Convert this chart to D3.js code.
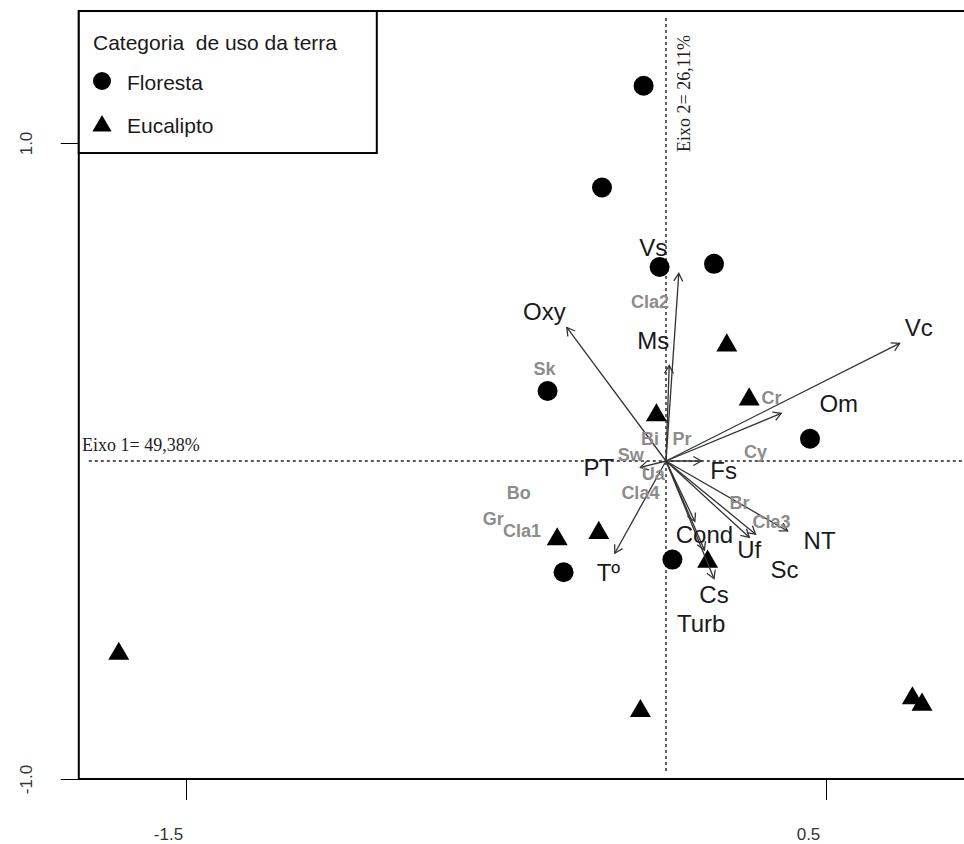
<!DOCTYPE html>
<html>
<head>
<meta charset="utf-8">
<script src="https://cdn.jsdelivr.net/npm/d3@7"></script>
<style>
  body { margin: 0; background: #fff; }
  text { font-family: Arial, "Liberation Sans", sans-serif; }
</style>
</head>
<body>
<div id="chart"></div>
<script>
// sites
var forestX = [-0.07, -0.20, -0.02, 0.15, -0.37, 0.45, 0.02, -0.32];
var forestY = [1.18, 0.86, 0.61, 0.62, 0.22, 0.07, -0.31, -0.35];
var eucX = [0.19, 0.26, -0.03, -0.21, -0.34, 0.13, -1.71, -0.08, 0.77, 0.80];
var eucY = [0.37, 0.20, 0.15, -0.22, -0.24, -0.31, -0.60, -0.78, -0.74, -0.76];

// environmental vectors
var envNames = ["Vs", "Ms", "Oxy", "Vc", "Om", "Fs", "PT", "Tº", "NT", "Sc", "Uf", "Cond", "Cs", "Turb"];
var envX = [0.04, 0.01, -0.31, 0.73, 0.36, 0.11, -0.08, -0.16, 0.38, 0.28, 0.26, 0.09, 0.15, 0.12];
var envY = [0.59, 0.30, 0.42, 0.37, 0.15, 0.00, -0.02, -0.29, -0.22, -0.23, -0.24, -0.19, -0.37, -0.28];
var envLabX = [-0.04, -0.04, -0.38, 0.79, 0.54, 0.18, -0.21, -0.18, 0.48, 0.37, 0.26, 0.12, 0.15, 0.11];
var envLabY = [0.67, 0.38, 0.47, 0.42, 0.18, -0.03, -0.02, -0.35, -0.25, -0.34, -0.28, -0.23, -0.42, -0.51];

// species
var sppNames = ["Cla2", "Sk", "Cr", "Bi", "Pr", "Sw", "Cy", "Ua", "Cla4", "Bo", "Gr", "Cla1", "Br", "Cla3"];
var sppX = [-0.05, -0.38, 0.33, -0.05, 0.05, -0.11, 0.28, -0.04, -0.08, -0.46, -0.54, -0.45, 0.23, 0.33];
var sppY = [0.50, 0.29, 0.20, 0.07, 0.07, 0.02, 0.03, -0.04, -0.10, -0.10, -0.18, -0.22, -0.13, -0.19];

var xTicks = [-1.5, 0.5];
var yTicks = [-1.0, 1.0];
var xLim = [-1.835, 0.94];
var yLim = [-1.0, 1.415];

var width = 964, height = 844;

var svg = d3.select("#chart").append("svg")
    .attr("width", width)
    .attr("height", height);

var x = d3.scaleLinear().domain([-1.5, 0.5]).range([186, 826]);
var y = d3.scaleLinear().domain([-1, 1]).range([779, 143]);

// dashed zero lines
svg.append("line")
    .attr("x1", x(xLim[0]) + 10).attr("x2", width)
    .attr("y1", y(0)).attr("y2", y(0))
    .attr("stroke", "#222").attr("stroke-width", 1.4)
    .attr("stroke-dasharray", "3,3");
svg.append("line")
    .attr("x1", x(0)).attr("x2", x(0))
    .attr("y1", y(yLim[1]) + 7).attr("y2", y(yLim[0]) - 6)
    .attr("stroke", "#222").attr("stroke-width", 1.4)
    .attr("stroke-dasharray", "3,3");

// axis titles (serif)
svg.append("text")
    .attr("x", 82).attr("y", 451)
    .style("font-family", "'Liberation Serif', 'DejaVu Serif', serif")
    .style("font-size", "18px")
    .attr("fill", "#222")
    .text("Eixo 1= 49,38%");
svg.append("text")
    .attr("transform", "translate(690,152) rotate(-90)")
    .style("font-family", "'Liberation Serif', 'DejaVu Serif', serif")
    .style("font-size", "18px")
    .attr("fill", "#222")
    .text("Eixo 2= 26,11%");

// sites
svg.selectAll(".forest").data(d3.range(forestX.length))
    .enter().append("circle")
    .attr("class", "forest")
    .attr("cx", function(i){ return x(forestX[i]); })
    .attr("cy", function(i){ return y(forestY[i]); })
    .attr("r", 10)
    .attr("fill", "#000");

var tri = d3.symbol().type(d3.symbolTriangle).size(190);
svg.selectAll(".euc").data(d3.range(eucX.length))
    .enter().append("path")
    .attr("class", "euc")
    .attr("d", tri)
    .attr("transform", function(i){ return "translate(" + x(eucX[i]) + "," + (y(eucY[i]) + 2) + ")"; })
    .attr("fill", "#000");

// arrows
function headPath(x1, y1, x2, y2) {
    var a = Math.atan2(y2 - y1, x2 - x1), len = 9, w = Math.PI / 6;
    return "M" + (x2 - len * Math.cos(a - w)) + "," + (y2 - len * Math.sin(a - w)) +
        "L" + x2 + "," + y2 +
        "L" + (x2 - len * Math.cos(a + w)) + "," + (y2 - len * Math.sin(a + w));
}

var arrows = svg.append("g").attr("stroke", "#333").attr("stroke-width", 1.3).attr("fill", "none");
envNames.forEach(function(n, i) {
    arrows.append("line")
        .attr("x1", x(0)).attr("y1", y(0))
        .attr("x2", x(envX[i])).attr("y2", y(envY[i]));
    arrows.append("path")
        .attr("d", headPath(x(0), y(0), x(envX[i]), y(envY[i])));
});

// species labels
svg.selectAll(".spp").data(sppNames)
    .enter().append("text")
    .attr("class", "spp")
    .attr("x", function(d, i){ return x(sppX[i]); })
    .attr("y", function(d, i){ return y(sppY[i]); })
    .attr("dy", "0.35em")
    .attr("text-anchor", "middle")
    .style("font-size", "18px")
    .style("font-weight", "bold")
    .attr("fill", "#8c8c8c")
    .text(function(d){ return d; });

// env labels
svg.selectAll(".env").data(envNames)
    .enter().append("text")
    .attr("class", "env")
    .attr("x", function(d, i){ return x(envLabX[i]); })
    .attr("y", function(d, i){ return y(envLabY[i]); })
    .attr("dy", "0.35em")
    .attr("text-anchor", "middle")
    .style("font-size", "24px")
    .attr("fill", "#1a1a1a")
    .text(function(d){ return d; });

// frame
svg.append("rect")
    .attr("x", x(xLim[0])).attr("y", y(yLim[1]))
    .attr("width", x(xLim[1]) - x(xLim[0]))
    .attr("height", y(yLim[0]) - y(yLim[1]))
    .attr("fill", "none").attr("stroke", "#000").attr("stroke-width", 2);

// axes
var yAxis = d3.axisLeft(y).tickValues(yTicks).tickSize(18).tickFormat(function(d){ return d.toFixed(1); });
var gy = svg.append("g").attr("transform", "translate(" + x(xLim[0]) + ",0)").call(yAxis);
gy.select(".domain").remove();
gy.selectAll("line").attr("stroke", "#000");
gy.selectAll("text")
    .attr("x", 0).attr("dy", 0)
    .attr("text-anchor", "middle")
    .attr("transform", "translate(-47,0) rotate(-90)")
    .style("font-size", "17px")
    .attr("fill", "#333");

var xAxis = d3.axisBottom(x).tickValues(xTicks).tickSize(21).tickFormat(function(d){ return d.toFixed(1); });
var gx = svg.append("g").attr("transform", "translate(0," + y(yLim[0]) + ")").call(xAxis);
gx.select(".domain").remove();
gx.selectAll("line").attr("stroke", "#000");
gx.selectAll("text")
    .attr("x", -18).attr("y", 61).attr("dy", 0)
    .style("font-size", "17px")
    .attr("fill", "#333");

// legend
var leg = svg.append("g");
leg.append("rect")
    .attr("x", x(xLim[0])).attr("y", y(yLim[1]))
    .attr("width", 298).attr("height", 142)
    .attr("fill", "#fff").attr("stroke", "#000").attr("stroke-width", 2);
leg.append("text")
    .attr("x", 93).attr("y", 50)
    .style("font-size", "21px")
    .style("white-space", "pre")
    .attr("fill", "#1a1a1a")
    .text("Categoria  de uso da terra");
leg.append("circle").attr("cx", 102).attr("cy", 81).attr("r", 9).attr("fill", "#000");
leg.append("text").attr("x", 127).attr("y", 90).style("font-size", "21px").attr("fill", "#1a1a1a").text("Floresta");
leg.append("path").attr("d", d3.symbol().type(d3.symbolTriangle).size(160))
    .attr("transform", "translate(102,126)").attr("fill", "#000");
leg.append("text").attr("x", 127).attr("y", 133).style("font-size", "21px").attr("fill", "#1a1a1a").text("Eucalipto");
</script>
</body>
</html>
